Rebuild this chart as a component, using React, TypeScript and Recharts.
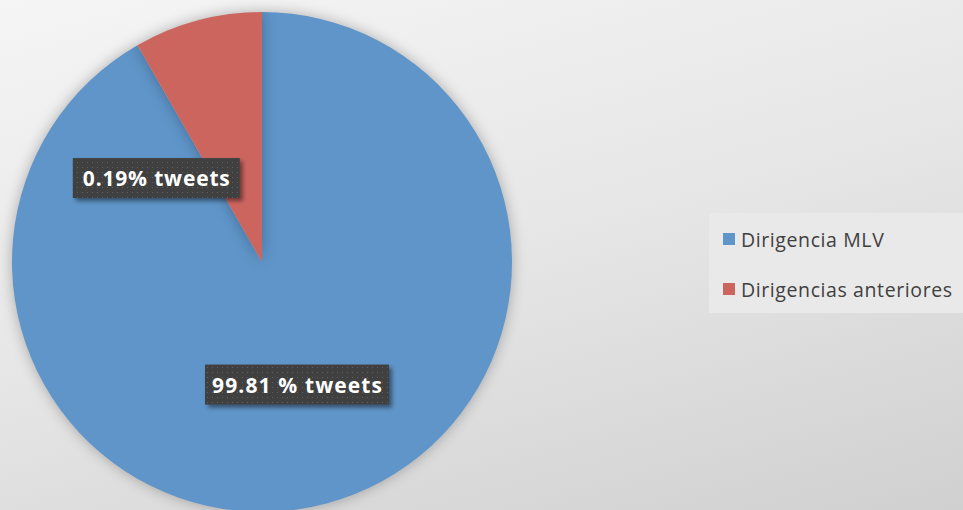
import React from "react";
import { Pie, PieChart, Cell, Legend } from "recharts";

// slice sizes as drawn in the picture (the printed labels are separate text)
const CATEGORIES = ["Dirigencia MLV", "Dirigencias anteriores"];
const SLICE_VALUES = [91.7, 8.3];
const SLICE_LABELS = ["99.81 % tweets", "0.19% tweets"];

const COLORS = ["#5f95c9", "#cd655f"];
const FONT = "'Open Sans', 'Noto Sans', sans-serif";

// label placement: extra angle (deg) on top of the slice mid-angle, radius as share of R
const LABEL_ANGLE_SHIFT = [1, 36.6];
const LABEL_RADIUS = [0.51, 0.54];
const LABEL_BOX_W = [184, 167];
const LABEL_TEXT_W = [170, 147];

const W = 963;
const H = 510;
const RAD = Math.PI / 180;

const data = CATEGORIES.map((name, i) => ({ name, value: SLICE_VALUES[i] }));

function renderLabel(props: any) {
  const { cx, cy, midAngle, outerRadius, index } = props;
  const a = midAngle + LABEL_ANGLE_SHIFT[index];
  const r = outerRadius * LABEL_RADIUS[index];
  const x = cx + r * Math.cos(-a * RAD);
  const y = cy + r * Math.sin(-a * RAD);
  const bw = LABEL_BOX_W[index];
  const bh = 40;
  return (
    <g key={`lbl-${index}`}>
      <rect
        x={x - bw / 2}
        y={y - bh / 2}
        width={bw}
        height={bh}
        fill="url(#dots)"
        filter="url(#boxShadow)"
      />
      <text
        x={x}
        y={y + 8}
        textAnchor="middle"
        fill="#ffffff"
        fontFamily={FONT}
        fontWeight={700}
        fontSize={21}
        textLength={LABEL_TEXT_W[index]}
        lengthAdjust="spacing"
      >
        {SLICE_LABELS[index]}
      </text>
    </g>
  );
}

function LegendBox() {
  return (
    <div
      style={{
        width: 254,
        height: 100,
        background: "#e9e9e9",
        boxSizing: "border-box",
        paddingLeft: 14,
        paddingTop: 16,
        fontFamily: FONT,
        fontSize: 19.5,
        letterSpacing: 0.6,
        color: "#404040",
        whiteSpace: "nowrap",
      }}
    >
      {CATEGORIES.map((c, i) => (
        <div key={c} style={{ display: "flex", alignItems: "center", height: 20, marginBottom: 30 }}>
          <span style={{ width: 12, height: 12, background: COLORS[i], marginRight: 6, flex: "none" }} />
          <span>{c}</span>
        </div>
      ))}
    </div>
  );
}

export default function App() {
  return (
    <div
      style={{
        position: "fixed",
        left: 0,
        top: 0,
        width: W,
        height: H,
        background: "linear-gradient(165deg, #f5f5f5 0%, #e6e6e6 50%, #d0d0d0 100%)",
        overflow: "hidden",
      }}
    >
      <svg width={0} height={0} style={{ position: "absolute" }}>
        <defs>
          <pattern id="dots" width="5" height="5" patternUnits="userSpaceOnUse">
            <rect width="5" height="5" fill="#404040" />
            <rect x="2" y="2" width="1" height="1" fill="#606060" />
          </pattern>
          <filter id="boxShadow" x="-20%" y="-40%" width="150%" height="200%">
            <feDropShadow dx="3" dy="3" stdDeviation="2" floodColor="#000" floodOpacity="0.45" />
          </filter>
        </defs>
      </svg>
      <style>{`.recharts-pie-sector { filter: drop-shadow(0 0 7px rgba(0,0,0,0.28)); }`}</style>
      <PieChart width={W} height={H} margin={{ top: 0, right: 0, bottom: 0, left: 0 }}>
        <Legend
          content={<LegendBox />}
          wrapperStyle={{ position: "absolute", left: 709, top: 213, width: 254, height: 100 }}
        />
        <Pie
          data={data}
          dataKey="value"
          nameKey="name"
          cx={262}
          cy={262}
          outerRadius={250}
          startAngle={90}
          endAngle={-270}
          stroke="none"
          label={renderLabel}
          labelLine={false}
          isAnimationActive={false}
        >
          {data.map((_, i) => (
            <Cell key={i} fill={COLORS[i]} />
          ))}
        </Pie>
      </PieChart>
    </div>
  );
}
